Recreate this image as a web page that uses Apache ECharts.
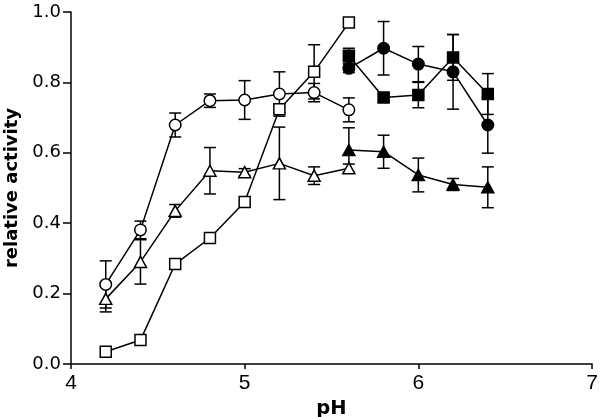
<!DOCTYPE html>
<html>
<head>
<meta charset="utf-8">
<script src="https://cdn.jsdelivr.net/npm/echarts@6/dist/echarts.min.js"></script>
<style>
html,body{margin:0;padding:0;background:#fff;}
#chart{width:600px;height:417px;}
</style>
</head>
<body>
<div id="chart"></div>
<script>
// pH values
const phOpen = [4.2, 4.4, 4.6, 4.8, 5.0, 5.2, 5.4, 5.6];
const phFilled = [5.6, 5.8, 6.0, 6.2, 6.4];

// open circles
const openCircle = [0.226, 0.381, 0.679, 0.748, 0.750, 0.767, 0.771, 0.722];
const openCircleErr = [0.067, 0.025, 0.034, 0.019, 0.055, 0.063, 0.026, 0.034];
// open triangles
const openTriangle = [0.185, 0.290, 0.435, 0.549, 0.545, 0.570, 0.535, 0.556];
const openTriangleErr = [0.037, 0.063, 0.018, 0.066, 0.010, 0.103, 0.025, 0.012];
// open squares
const openSquare = [0.035, 0.068, 0.284, 0.358, 0.460, 0.724, 0.830, 0.970];
const openSquareErr = [0, 0, 0, 0, 0, 0.010, 0.077, 0];
// filled circles
const filledCircle = [0.840, 0.897, 0.852, 0.830, 0.679];
const filledCircleErr = [0.012, 0.076, 0.050, 0.106, 0.080];
// filled squares
const filledSquare = [0.876, 0.757, 0.764, 0.871, 0.767];
const filledSquareErr = [0.021, 0.010, 0.036, 0.065, 0.058];
// filled triangles
const filledTriangle = [0.608, 0.603, 0.537, 0.510, 0.502];
const filledTriangleErr = [0.063, 0.047, 0.048, 0.017, 0.058];

// tick labels
const xTicks = [4, 5, 6, 7];
const yTicks = [0.0, 0.2, 0.4, 0.6, 0.8, 1.0];

const FONT_X = '"Liberation Sans", Arial, Helvetica, sans-serif';
const FONT_Y = '"DejaVu Sans", sans-serif';

function pts(xs, ys) { return xs.map((x, i) => [x, ys[i]]); }
function errPts(xs, ys, es) { return xs.map((x, i) => [x, ys[i], es[i]]); }

function errRender(params, api) {
  const x = api.value(0), y = api.value(1), e = api.value(2);
  if (!e) return null;
  const top = api.coord([x, y + e]);
  const bot = api.coord([x, y - e]);
  const hw = 6;
  const style = { stroke: '#000', lineWidth: 1.5 };
  return {
    type: 'group',
    children: [
      { type: 'line', shape: { x1: top[0], y1: top[1], x2: bot[0], y2: bot[1] }, style: style },
      { type: 'line', shape: { x1: top[0] - hw, y1: top[1], x2: top[0] + hw, y2: top[1] }, style: style },
      { type: 'line', shape: { x1: bot[0] - hw, y1: bot[1], x2: bot[0] + hw, y2: bot[1] }, style: style }
    ]
  };
}

function errSeries(xs, ys, es) {
  return {
    type: 'custom', renderItem: errRender, data: errPts(xs, ys, es),
    z: 1, silent: true, encode: { x: 0, y: 1 }
  };
}

function lineSeries(xs, ys, symbol, filled, size) {
  return {
    type: 'line', data: pts(xs, ys), symbol: symbol, symbolSize: size,
    showSymbol: true, z: 3,
    lineStyle: { color: '#000', width: 1.5 },
    itemStyle: { color: filled ? '#000' : '#fff', borderColor: '#000', borderWidth: 1.5, opacity: 1 }
  };
}

const chart = echarts.init(document.getElementById('chart'), null, { renderer: 'canvas' });
chart.setOption({
  animation: false,
  backgroundColor: '#fff',
  grid: { left: 71, right: 8, top: 12, bottom: 53, containLabel: false, outerBoundsMode: 'none' },
  xAxis: {
    type: 'value', min: xTicks[0], max: xTicks[xTicks.length - 1], interval: 1,
    name: 'pH', nameLocation: 'middle', nameGap: 35,
    nameTextStyle: { fontFamily: FONT_Y, fontWeight: 'bold', fontSize: 19.5, color: '#000' },
    axisLine: { show: true, lineStyle: { color: '#000', width: 1.5 } },
    axisTick: { show: true, inside: false, length: 5, lineStyle: { color: '#000', width: 1.5 } },
    axisLabel: { fontFamily: FONT_X, fontSize: 21, color: '#000', margin: 9, showMinLabel: true, showMaxLabel: true },
    splitLine: { show: false }
  },
  yAxis: {
    type: 'value', min: yTicks[0], max: yTicks[yTicks.length - 1], interval: 0.2,
    name: 'relative activity', nameLocation: 'middle', nameGap: 48,
    nameTextStyle: { fontFamily: FONT_Y, fontWeight: 'bold', fontSize: 18, color: '#000' },
    axisLine: { show: true, lineStyle: { color: '#000', width: 1.5 } },
    axisTick: { show: true, inside: false, length: 8, lineStyle: { color: '#000', width: 1.5 } },
    axisLabel: { fontFamily: FONT_Y, fontSize: 18, color: '#000', margin: 10, formatter: v => v.toFixed(1) },
    splitLine: { show: false }
  },
  series: [
    errSeries(phOpen, openCircle, openCircleErr),
    errSeries(phOpen, openTriangle, openTriangleErr),
    errSeries(phOpen, openSquare, openSquareErr),
    errSeries(phFilled, filledCircle, filledCircleErr),
    errSeries(phFilled, filledSquare, filledSquareErr),
    errSeries(phFilled, filledTriangle, filledTriangleErr),
    lineSeries(phOpen, openSquare, 'rect', false, 11),
    lineSeries(phOpen, openTriangle, 'triangle', false, [12, 11]),
    lineSeries(phOpen, openCircle, 'circle', false, 11.5),
    lineSeries(phFilled, filledTriangle, 'triangle', true, [12, 11]),
    lineSeries(phFilled, filledSquare, 'rect', true, 11),
    lineSeries(phFilled, filledCircle, 'circle', true, 11.5)
  ]
});
</script>
</body>
</html>
